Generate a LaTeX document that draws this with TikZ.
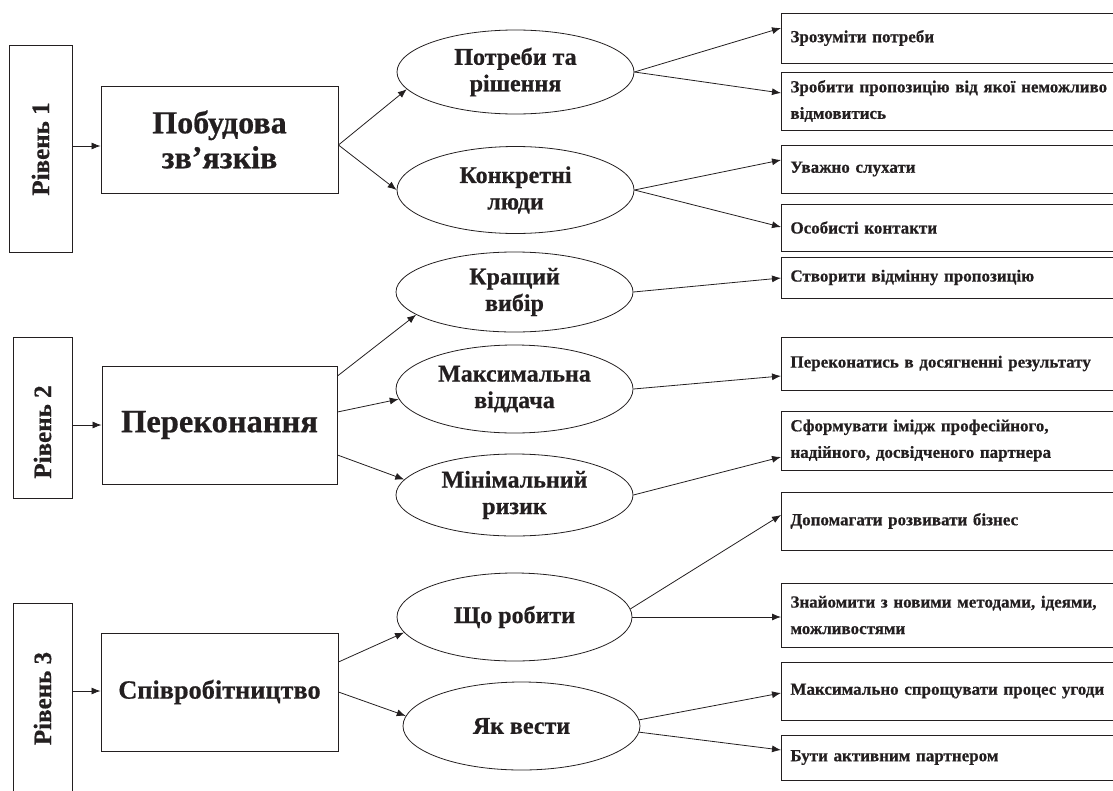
\documentclass[tikz,border=0pt]{standalone}
\usepackage{graphicx}
\usepackage{fontspec}
\setmainfont{Liberation Serif}[BoldFeatures={FakeBold=0.6}]
\usetikzlibrary{arrows.meta,shapes.geometric}
\definecolor{ink}{HTML}{231F20}
\begin{document}
\begin{tikzpicture}[x=1pt,y=-1pt,
  lvl/.style={draw=ink, line width=0.9pt, inner sep=0pt},
  lvltext/.style={inner sep=0pt, text=ink, font=\fontsize{25}{29}\selectfont\bfseries},
  mainbox/.style={draw=ink, line width=0.9pt, inner sep=0pt, align=center, text=ink},
  oval/.style={draw=ink, line width=0.8pt, ellipse, inner sep=0pt, align=center, text=ink, font=\fontsize{24}{26.5}\selectfont\bfseries},
  item/.style={draw=ink, line width=0.9pt, anchor=west, inner xsep=9pt, inner ysep=0pt, text width=330pt, align=left, text=ink, font=\fontsize{17}{26.5}\selectfont\bfseries},
  arr/.style={draw=ink, line width=0.8pt, -{Latex[length=9pt,width=7pt]}}
]
\useasboundingbox (0,0) rectangle (1113,790);

% level boxes
\node[lvl, minimum width=63pt, minimum height=207pt] (L1) at (40.5,148.5) {};
\node[lvl, minimum width=59pt, minimum height=161pt] (L2) at (42.5,417.5) {};
\node[lvl, minimum width=59pt, minimum height=197pt] (L3) at (42.5,701.5) {};
\node[lvltext] (L1t) at (L1.center |- 0,149) {\rotatebox{90}{Рівень 1}};
\node[lvltext] (L2t) at (L2.center |- 0,432) {\rotatebox{90}{Рівень 2}};
\node[lvltext] (L3t) at (L3.center |- 0,698.5) {\rotatebox{90}{Рівень 3}};

% main boxes
\node[mainbox, minimum width=237pt, minimum height=107pt, font=\fontsize{32}{35}\selectfont\bfseries] (B1) at (219.5,139.5) {Побудова\\зв’язків};
\node[mainbox, minimum width=235pt, minimum height=118pt, font=\fontsize{32.5}{36}\selectfont\bfseries] (B2) at (219.5,425) {Переконання};
\node[mainbox, minimum width=237pt, minimum height=118pt, font=\fontsize{26.3}{32}\selectfont\bfseries] (B3) at (219.5,692) {Співробітництво};

% ellipses
\node[oval, minimum width=237pt, minimum height=84pt] (E1) at (515.5,72) {Потреби та\\рішення};
\node[oval, minimum width=237pt, minimum height=87pt] (E2) at (515.5,190) {Конкретні\\люди};
\node[oval, minimum width=237pt, minimum height=80pt] (E3) at (514.5,292) {Кращий\\вибір};
\node[oval, minimum width=237pt, minimum height=88pt] (E4) at (514.5,389) {Максимальна\\віддача};
\node[oval, minimum width=237pt, minimum height=82pt] (E5) at (514.5,495) {Мінімальний\\ризик};
\node[oval, minimum width=235pt, minimum height=88pt] (E6) at (514.5,617) {Що робити};
\node[oval, minimum width=237pt, minimum height=88pt] (E7) at (521.5,726) {Як вести};

% right boxes
\node[item, minimum height=50pt] (R1) at (781,38) {Зрозуміти потреби};
\node[item, minimum height=58pt] (R2) at (781,101) {Зробити пропозицію від якої неможливо\\відмовитись};
\node[item, minimum height=48pt] (R3) at (781,169) {Уважно слухати};
\node[item, minimum height=47pt] (R4) at (781,227.5) {Особисті контакти};
\node[item, minimum height=41pt] (R5) at (781,277.5) {Створити відмінну пропозицію};
\node[item, minimum height=53pt] (R6) at (781,363.5) {Переконатись в досягненні результату};
\node[item, minimum height=59pt] (R7) at (781,440.5) {Сформувати імідж професійного,\\надійного, досвідченого партнера};
\node[item, minimum height=58pt] (R8) at (781,521) {Допомагати розвивати бізнес};
\node[item, minimum height=64pt] (R9) at (781,615) {Знайомити з новими методами, ідеями,\\можливостями};
\node[item, minimum height=58pt] (R10) at (781,691) {Максимально спрощувати процес угоди};
\node[item, minimum height=45pt] (R11) at (781,757.5) {Бути активним партнером};

% level -> main
\draw[arr] (L1.east |- 0,146) -- (B1.west |- 0,146);
\draw[arr] (L2.east |- 0,425) -- (B2.west |- 0,425);
\draw[arr] (L3.east |- 0,691) -- (B3.west |- 0,691);

% main -> ellipses
\draw[arr] (B1.east |- 0,145) -- (E1.189);
\draw[arr] (B1.east |- 0,145) -- (E2.west);
\draw[arr] (B2.east |- 0,376) -- (E3.193);
\draw[arr] (B2.east |- 0,412) -- (E4.185);
\draw[arr] (B2.east |- 0,455) -- (E5.172);
\draw[arr] (B3.east |- 0,662) -- (E6.188);
\draw[arr] (B3.east |- 0,692) -- (E7.175);

% ellipses -> items
\draw[arr] (E1.east) -- (R1.west |- 0,28);
\draw[arr] (E1.east) -- (R2.west |- 0,93);
\draw[arr] (E2.east) -- (R3.west |- 0,160);
\draw[arr] (E2.east) -- (R4.west |- 0,227);
\draw[arr] (E3.east) -- (R5.west |- 0,278);
\draw[arr] (E4.east) -- (R6.west |- 0,376);
\draw[arr] (E5.east) -- (R7.west |- 0,457);
\draw[arr] (E6.4) -- (R8.west |- 0,515);
\draw[arr] (E6.east) -- (R9.west |- 0,617);
\draw[arr] (E7.3) -- (R10.west |- 0,693);
\draw[arr] (E7.-3) -- (R11.west |- 0,750);
\end{tikzpicture}
\end{document}
